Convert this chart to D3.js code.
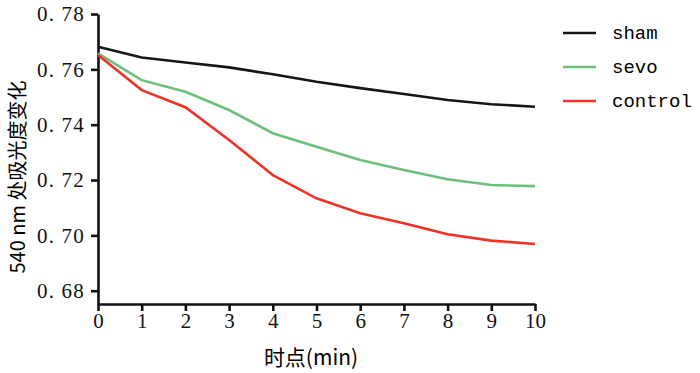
<!DOCTYPE html>
<html>
<head>
<meta charset="utf-8">
<script src="https://d3js.org/d3.v7.min.js"></script>
<style>
	body { margin: 0; background: #fff; }
</style>
</head>
<body>
<script>
	const minutes = [0, 1, 2, 3, 4, 5, 6, 7, 8, 9, 10]
	const sham    = [0.7682, 0.7643, 0.7625, 0.7607, 0.7582, 0.7555, 0.7532, 0.7511, 0.7489, 0.7474, 0.7465]
	const sevo    = [0.7658, 0.7561, 0.7519, 0.7453, 0.7369, 0.7320, 0.7272, 0.7236, 0.7203, 0.7182, 0.7178]
	const control = [0.7652, 0.7525, 0.7463, 0.7345, 0.7218, 0.7134, 0.7080, 0.7044, 0.7004, 0.6981, 0.6969]
	const yTicks = [0.68, 0.70, 0.72, 0.74, 0.76, 0.78]
	const series = [
		{name: 'sham', values: sham, color: '#161616'},
		{name: 'sevo', values: sevo, color: '#6cc07a'},
		{name: 'control', values: control, color: '#ee3326'}
	]

	const W = 700, H = 373
	const svg = d3.select('body').append('svg')
		.attr('width', W)
		.attr('height', H)

	const x = d3.scaleLinear().domain([0, 10]).range([98, 535])
	const y = d3.scaleLinear().domain([0.6752, 0.78]).range([304, 14])

	function styleAxis(g) {
		g.selectAll('path, line').style('stroke', '#111').style('stroke-width', '2.6px')
		g.selectAll('text')
			.style('font-family', '"Liberation Serif", "DejaVu Serif", serif')
			.style('font-size', '21px')
			.style('fill', '#111')
	}

	svg.append('g')
		.attr('transform', 'translate(0,304)')
		.call(d3.axisBottom(x).tickValues(minutes).tickSize(7).tickSizeOuter(0).tickPadding(2))
		.call(styleAxis)

	svg.append('g')
		.attr('transform', 'translate(98,0)')
		.call(d3.axisLeft(y).tickValues(yTicks).tickSize(7).tickSizeOuter(0).tickPadding(6)
			.tickFormat(d => d3.format('.2f')(d).replace('.', '. ')))
		.call(styleAxis)
		.call(g => g.selectAll('text').style('letter-spacing', '1.2px'))

	const line = d3.line()
		.x((d, i) => x(minutes[i]))
		.y(d => y(d))

	svg.append('g').selectAll('path')
		.data(series)
		.enter().append('path')
		.attr('d', d => line(d.values))
		.attr('fill', 'none')
		.attr('stroke', d => d.color)
		.attr('stroke-width', 2.6)

	// legend
	const legend = svg.append('g').selectAll('g')
		.data(series)
		.enter().append('g')
		.attr('transform', (d, i) => 'translate(563,' + (33 + i * 34) + ')')
	legend.append('line')
		.attr('x1', 0).attr('x2', 33)
		.attr('stroke', d => d.color)
		.attr('stroke-width', 2.6)
	legend.append('text')
		.attr('x', 49)
		.attr('dy', '0.32em')
		.style('font-family', '"Liberation Mono", monospace')
		.style('font-size', '19px')
		.text(d => d.name)

	svg.append('text')
		.attr('x', 311)
		.attr('y', 365)
		.attr('text-anchor', 'middle')
		.style('font-family', '"Noto Sans CJK SC", "Liberation Serif", serif')
		.style('font-size', '21px')
		.text('时点(min)')

	svg.append('text')
		.attr('transform', 'translate(25,177) rotate(-90)')
		.attr('text-anchor', 'middle')
		.style('font-family', '"Noto Sans CJK SC", "Liberation Serif", serif')
		.style('font-size', '20px')
		.text('540 nm 处吸光度变化')
</script>
</body>
</html>
